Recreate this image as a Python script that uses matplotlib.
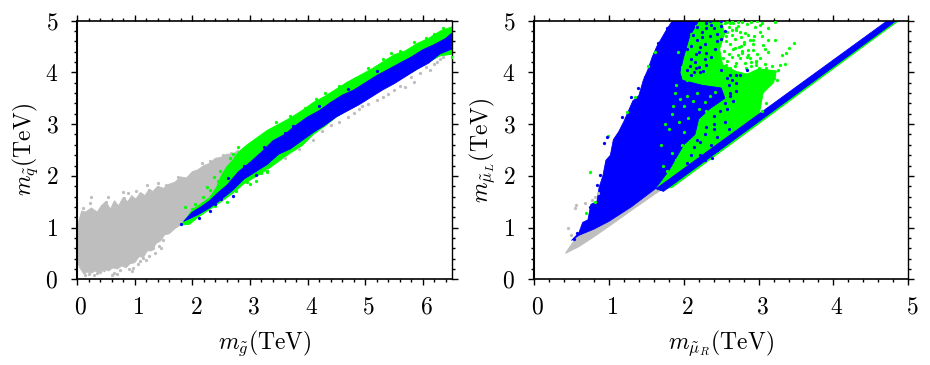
import matplotlib
matplotlib.use('Agg')
import matplotlib.pyplot as plt
from matplotlib.ticker import MultipleLocator
from matplotlib.transforms import ScaledTranslation

grey = '#bebebe'
green = '#00ff00'
blue = '#0000ff'

# left panel, outlines of the dense clouds (m_gluino, m_squark)
l_grey_x = [0, .03, .08, .15, .25, .35, .42, .5, .58, .65, .72, .8, .88, .95, 1.02, 1.1, 1.18, 1.25, 1.32, 1.4, 1.5, 1.6, 1.7, 1.8, 1.9, 2.0, 2.1, 2.2, 2.3, 2.4, 2.5, 2.6, 2.7, 2.8, 2.8, 2.6, 2.4, 2.1, 1.8, 1.7, 1.6, 1.52, 1.45, 1.38, 1.3, 1.22, 1.15, 1.08, 1.0, .92, .85, .78, .7, .62, .55, .48, .4, .32, .25, .18, .12, .05, 0]
l_grey_y = [1.0, 1.12, 1.32, 1.3, 1.38, 1.3, 1.42, 1.5, 1.36, 1.52, 1.42, 1.58, 1.5, 1.62, 1.55, 1.68, 1.62, 1.74, 1.7, 1.8, 1.76, 1.84, 1.88, 1.98, 1.96, 2.08, 2.12, 2.2, 2.24, 2.34, 2.36, 2.42, 2.42, 2.5, 2.0, 1.75, 1.55, 1.3, 1.05, .98, .88, .86, .74, .7, .55, .55, .42, .44, .32, .3, .22, .26, .2, .22, .16, .2, .12, .16, .12, .14, .1, .22, .35]
l_grn_x = [1.8, 1.9, 2.0, 2.1, 2.2, 2.3, 2.42, 2.5, 2.6, 2.7, 2.8, 2.95, 3.1, 3.3, 3.5, 3.7, 3.9, 4.1, 4.3, 4.5, 4.7, 4.9, 5.1, 5.3, 5.5, 5.7, 5.9, 6.1, 6.3, 6.5, 6.5, 6.3, 6.1, 5.9, 5.7, 5.5, 5.3, 5.1, 4.9, 4.7, 4.5, 4.3, 4.1, 3.9, 3.7, 3.5, 3.3, 3.1, 2.9, 2.7, 2.5, 2.3, 2.1, 1.95]
l_grn_y = [1.05, 1.18, 1.35, 1.42, 1.5, 1.58, 1.78, 2.0, 2.18, 2.3, 2.46, 2.6, 2.72, 2.88, 3.0, 3.12, 3.26, 3.42, 3.54, 3.68, 3.82, 3.94, 4.06, 4.2, 4.34, 4.42, 4.56, 4.66, 4.8, 4.88, 4.35, 4.32, 4.2, 4.06, 3.94, 3.84, 3.7, 3.56, 3.42, 3.28, 3.14, 2.96, 2.8, 2.58, 2.44, 2.28, 2.12, 1.98, 1.85, 1.66, 1.5, 1.35, 1.2, 1.06]
l_blu_x = [1.85, 2.0, 2.15, 2.3, 2.45, 2.6, 2.8, 3.0, 3.2, 3.4, 3.6, 3.8, 4.0, 4.2, 4.4, 4.6, 4.8, 5.0, 5.2, 5.4, 5.6, 5.8, 6.0, 6.2, 6.4, 6.5, 6.5, 6.3, 6.1, 5.9, 5.7, 5.5, 5.3, 5.1, 4.9, 4.7, 4.5, 4.3, 4.1, 3.9, 3.7, 3.5, 3.3, 3.1, 2.9, 2.7, 2.5, 2.3, 2.1]
l_blu_y = [1.12, 1.3, 1.4, 1.52, 1.68, 1.82, 2.08, 2.26, 2.46, 2.68, 2.8, 2.98, 3.14, 3.26, 3.42, 3.56, 3.66, 3.8, 3.94, 4.06, 4.18, 4.3, 4.44, 4.54, 4.66, 4.76, 4.45, 4.36, 4.18, 4.06, 3.92, 3.78, 3.66, 3.52, 3.38, 3.26, 3.14, 2.98, 2.84, 2.68, 2.52, 2.42, 2.22, 2.08, 1.94, 1.72, 1.54, 1.38, 1.25]

# left panel, stray points at the cloud edges
l_grey_px = [.25, .1, .22, .53, .5, .79, .82, .89, 1.03, 1.21, 1.25, 1.41, 1.55, 1.75, 2.16, 2.3, 2.54, 2.68, .14, .2, .34, .46, .6, .65, .83, .98, 1.15, 1.32, 1.5, 1.1, 1.25, 1.42, 5.2, 5.4, 5.69, 5.85, 6.12, 6.24, 6.3, 4.7, 4.9, 4.1, 4.4, 3.6, 3.3, 5.05, 5.3, 5.5, 5.6, 5.8, 5.95, 6.05, 6.2, 6.35, 4.55, 4.8, 4.95, 3.85, 4.25, .3, .4, .75, .9, 1.05, 1.2, 1.35, 1.45, .95, .7]
l_grey_py = [1.6, 1.37, 1.48, 1.6, 1.5, 1.69, 1.58, 1.66, 1.71, 1.82, 1.72, 1.87, 1.83, 1.98, 2.24, 2.28, 2.4, 2.44, .08, .1, .12, .18, .08, .12, .31, .21, .41, .6, .76, .35, .45, .65, 3.47, 3.58, 3.72, 3.82, 4.05, 4.21, 4.25, 3.14, 3.3, 2.69, 2.98, 2.35, 2.12, 3.38, 3.52, 3.66, 3.74, 3.92, 3.98, 4.1, 4.16, 4.3, 3.05, 3.22, 3.36, 2.52, 2.86, .08, .14, .18, .2, .3, .38, .5, .6, .16, .1]
l_grn_px = [1.88, 2.0, 2.18, 2.25, 2.38, 2.48, 2.55, 2.65, 2.8, 2.9, 3.0, 3.1, 3.3, 3.6, 4.3, 5.3, 5.6, 6.05, 6.35, 6.5, 2.6, 2.95, 3.3, 2.05, 2.3, 2.45, 2.7, 3.45, 3.7, 3.95, 4.15, 4.55, 4.8, 5.05, 5.45, 5.85, 6.2, 2.4, 2.75, 3.2]
l_grn_py = [1.4, 1.35, 1.6, 1.78, 1.98, 2.1, 2.05, 2.35, 2.55, 2.45, 1.85, 1.9, 2.08, 2.42, 3.6, 4.25, 4.42, 4.66, 4.85, 4.3, 1.5, 1.88, 2.1, 1.45, 1.72, 1.9, 2.42, 3.04, 3.16, 3.32, 3.48, 3.74, 3.88, 4.08, 4.38, 4.58, 4.74, 1.42, 1.7, 2.05]
l_blu_px = [1.8, 1.95, 2.05, 2.12, 2.2, 2.3, 2.4, 2.5, 2.7, 3.1, 3.6, 5.0, 2.62, 2.9, 3.25, 3.5, 3.75, 4.2, 4.7, 5.2]
l_blu_py = [1.07, 1.2, 1.28, 1.18, 1.38, 1.33, 1.45, 1.55, 1.62, 2.02, 2.82, 3.72, 1.95, 2.2, 2.55, 2.72, 2.96, 3.36, 3.68, 4.02]

# right panel, outlines (m_smuR, m_smuL)
r_grey_x = [.42, .6, .8, 1.0, 1.3, 1.66, 1.78, 1.6, 1.0, .7, .55, .45]
r_grey_y = [.5, .63, .82, 1.02, 1.33, 1.69, 1.8, 1.8, 1.25, .98, .78, .57]
r_grn_x = [1.65, 3.0, 3.03, 3.06, 3.2, 3.24, 3.0, 2.85, 2.7, 2.52, 2.48, 2.55, 2.5, 1.9, 1.7]
r_grn_y = [1.72, 3.13, 3.35, 3.6, 3.8, 4.03, 4.07, 3.97, 4.02, 4.15, 4.45, 4.75, 5.0, 5.0, 2.0]
r_blu_x = [.5, .6, .65, .72, .76, .84, .87, .92, .96, 1.02, 1.06, 1.13, 1.2, 1.26, 1.32, 1.4, 1.46, 1.52, 1.58, 1.64, 1.7, 1.78, 1.85, 2.2, 2.08, 2.0, 1.95, 1.98, 2.25, 2.5, 2.55, 2.35, 2.2, 2.15, 2.0, 1.8, 1.62, 1.3, 1.0, .8, .6]
r_blu_y = [.75, .9, 1.1, 1.15, 1.45, 1.5, 1.78, 2.0, 2.3, 2.4, 2.7, 2.85, 3.05, 3.25, 3.45, 3.55, 3.85, 4.05, 4.3, 4.5, 4.65, 4.85, 5.0, 5.0, 4.7, 4.3, 4.0, 3.85, 3.75, 3.7, 3.5, 3.3, 3.1, 2.8, 2.6, 2.1, 1.75, 1.4, 1.12, .97, .85]
band_grn_x = [1.75, 4.7, 4.88, 4.87, 1.85]
band_grn_y = [1.75, 4.85, 5.0, 5.0, 1.78]
band_blu_x = [1.63, 4.72, 4.84, 1.73]
band_blu_y = [1.75, 5.0, 5.0, 1.7]

# right panel, the speckled upper part
r_grn_px = [3.47, 3.41, 3.37, 3.31, 3.35, 3.26, 3.22, 3.12, 3.22, 3.02, 2.95, 3.02, 3.13, 3.06, 2.92, 3.02, 3.13, 2.97, 3.09, 2.89, 2.83, 2.75, 2.69, 2.8, 2.75, 2.86, 2.64, 3.2, 3.12, 3.06, 3.02, 3.2, 3.15, 3.1, 2.97, 3.28, 3.24, 3.18, 3.12, 3.0, 2.9, 2.82, 2.78, 2.93, 3.1, 3.05, .99, .75, 1.52, 1.62, 1.35, 1.24, .69, .81,
            1.92, 1.98, 2.05, 2.12, 2.18, 2.0, 2.08, 1.9, 1.85, 1.8, 1.75, 1.7, 2.02, 2.1, 2.15, 1.88, 1.95, 2.05, 2.2, 2.28, 2.32, 2.38, 2.24, 1.86, 1.94, 2.0, 2.06, 2.14, 1.84, 1.9, 1.98, 1.72, 1.78, 2.3, 2.36, 2.42, 2.46, 2.25, 2.12, 2.2, 2.28, 2.35, 2.42, 2.2, 2.3, 2.38, 2.1, 2.16, 2.24,
            2.55, 2.6, 2.66, 2.72, 2.78, 2.84, 2.9, 2.58, 2.64, 2.7, 2.76, 2.82, 2.88, 2.94, 2.56, 2.62, 2.68, 2.74, 2.8, 2.86, 2.54, 2.6, 2.66, 2.72, 2.78, 2.52, 2.58, 2.64, 2.7, 2.56, 2.62, 2.68, 2.58, 2.64, 2.98, 3.05, 2.92, 2.98, 2.86, 3.05, 2.72, 2.96, 3.08, 2.84, 2.9, 2.62, 2.7, 2.76, 2.5, 2.56]
r_grn_py = [4.56, 4.47, 4.37, 4.34, 4.16, 4.05, 4.63, 4.85, 4.98, 4.92, 4.88, 4.79, 4.63, 4.53, 4.43, 4.27, 4.4, 4.14, 4.17, 4.27, 4.08, 4.27, 4.47, 4.59, 4.79, 4.72, 4.82, 3.9, 3.85, 3.7, 3.55, 3.95, 3.98, 4.08, 4.2, 4.15, 3.85, 4.12, 4.0, 4.08, 4.12, 4.18, 4.38, 4.55, 3.4, 3.25, 2.77, 2.08, 4.12, 4.4, 3.53, 3.24, 1.28, 1.5,
            4.4, 4.1, 3.85, 4.3, 3.6, 3.35, 4.6, 3.75, 3.2, 2.9, 3.0, 2.6, 4.25, 4.05, 3.95, 3.6, 3.48, 3.55, 3.9, 4.15, 4.0, 3.85, 4.45, 3.35, 3.05, 2.85, 3.12, 2.72, 2.45, 2.3, 2.6, 2.2, 2.1, 3.25, 3.12, 3.0, 3.2, 3.02, 3.45, 3.3, 3.42, 3.55, 3.62, 4.65, 4.85, 4.7, 4.75, 4.9, 4.55,
            4.95, 4.88, 4.96, 4.9, 4.97, 4.93, 4.98, 4.78, 4.72, 4.82, 4.68, 4.76, 4.62, 4.7, 4.6, 4.55, 4.64, 4.5, 4.54, 4.44, 4.42, 4.36, 4.46, 4.34, 4.42, 4.28, 4.22, 4.3, 4.18, 4.14, 4.08, 4.12, 4.98, 5.0, 4.99, 4.96, 4.62, 4.35, 4.33, 4.7, 4.98, 4.22, 4.46, 4.3, 4.2, 4.95, 4.86, 4.52, 4.88, 4.7]
r_blu_px = [.97, .94, .88, .84, .75, .63, .53, .58, 1.18, 1.3, 1.39, 1.48, 1.65, 1.77, 2.4, 2.45, 2.5, 2.55, 2.45, 2.5, 2.35, 2.42, 2.28, 2.36, 2.2, 2.3, 2.15, 2.22, 2.1, 2.18, 2.6, 2.65, 2.62, 2.7, 2.7, 2.55, 2.58, 2.62, 2.66, 2.4, 2.48, 2.4, 2.3, 2.22, 2.28, 2.36, 2.14, 2.45, 2.55, 2.3, 2.22, 2.1, 2.05, 2.2, 2.28, 2.38, 2.44, 2.6, 2.62, 2.7, 2.75, 2.85, 2.5, 2.3, 2.35, 2.5, 2.4, 2.58, 2.15, 2.12,
            2.12, 2.18, 2.24, 2.3, 2.36, 2.12, 2.18, 2.24, 2.3, 2.1, 2.16, 2.22, 2.28, 2.05, 2.1, 2.16, 2.08, 2.14, 2.2, 2.26, 2.04, 2.1, 2.06, 2.02]
r_blu_py = [2.76, 2.63, 2.02, 1.82, 1.4, .95, .77, .89, 3.14, 3.53, 3.69, 3.92, 4.56, 4.85, 4.85, 4.75, 4.9, 4.8, 4.6, 4.65, 4.7, 4.45, 4.55, 4.3, 4.4, 4.15, 4.2, 4.0, 3.6, 2.7, 3.75, 3.85, 3.95, 3.8, 3.65, 3.4, 3.3, 3.55, 3.45, 3.15, 3.25, 2.9, 2.95, 2.65, 2.8, 2.6, 2.55, 2.75, 3.05, 2.45, 2.4, 2.4, 2.25, 2.25, 2.3, 2.35, 2.5, 2.9, 3.6, 3.95, 3.95, 4.05, 4.05, 4.95, 5.0, 5.0, 3.0, 3.9, 2.95, 3.1,
            4.95, 4.88, 4.78, 4.86, 4.92, 4.72, 4.62, 4.68, 4.38, 4.52, 4.35, 4.5, 4.25, 4.45, 4.25, 4.08, 4.12, 4.0, 4.1, 4.02, 4.05, 3.95, 4.75, 4.6]
r_grey_px = [.55, .56, .46, .77, .86, .68, .5, .82]
r_grey_py = [1.37, 1.44, .99, 1.53, 1.66, 1.47, .85, 1.6]

plt.rcParams['font.family'] = 'cmr10'
plt.rcParams['axes.formatter.use_mathtext'] = True
plt.rcParams['mathtext.fontset'] = 'cm'
plt.rcParams['font.size'] = 17


def cloud(ax, x, y, c):
    ax.fill(x, y, color=c, lw=0.6, zorder=2)


def pts(ax, x, y, c, z=3):
    ax.scatter(x, y, s=5.5, c=c, marker='o', linewidths=0, zorder=z)


def frame(ax, xmax, xticks):
    ax.set_xlim(0, xmax)
    ax.set_ylim(0, 5)
    ax.set_xticks(xticks)
    ax.set_yticks(range(6))
    ax.xaxis.set_minor_locator(MultipleLocator(0.2))
    ax.yaxis.set_minor_locator(MultipleLocator(0.2))
    ax.tick_params(which='major', direction='out', top=True, right=True, length=4.5, width=1, labelsize=17)
    ax.tick_params(which='minor', direction='out', top=True, right=True, length=2.2, width=1)
    ax.tick_params(axis='x', pad=8)
    ax.tick_params(axis='y', pad=9)
    for s in ax.spines.values():
        s.set_linewidth(1)
    ax.spines['left'].set_linewidth(1.5)
    ax.spines['bottom'].set_linewidth(1.2)
    ax.spines['top'].set_linewidth(1.2)
    # tick labels sit a little right of their ticks in the original
    shift = ScaledTranslation(2.5 / 72, 0, ax.figure.dpi_scale_trans)
    for lab in ax.get_xticklabels():
        lab.set_transform(lab.get_transform() + shift)


fig = plt.figure(figsize=(9.3, 3.65), dpi=100)
ax1 = fig.add_axes([77 / 930, 1 - 279.3 / 365, 374.7 / 930, 258.6 / 365])
ax2 = fig.add_axes([534 / 930, 1 - 279.3 / 365, 374.3 / 930, 258.6 / 365])

cloud(ax1, l_grey_x, l_grey_y, grey)
pts(ax1, l_grey_px, l_grey_py, grey)
cloud(ax1, l_grn_x, l_grn_y, green)
pts(ax1, l_grn_px, l_grn_py, green)
cloud(ax1, l_blu_x, l_blu_y, blue)
pts(ax1, l_blu_px, l_blu_py, blue)
frame(ax1, 6.5, range(7))
ax1.set_xlabel(r'$m_{\tilde{g}}$(TeV)', labelpad=7)
ax1.set_ylabel(r'$m_{\tilde{q}}$(TeV)', labelpad=4)

cloud(ax2, r_grey_x, r_grey_y, grey)
pts(ax2, r_grey_px, r_grey_py, grey)
cloud(ax2, r_grn_x, r_grn_y, green)
cloud(ax2, r_blu_x, r_blu_y, blue)
cloud(ax2, band_grn_x, band_grn_y, green)
cloud(ax2, band_blu_x, band_blu_y, blue)
pts(ax2, r_grn_px, r_grn_py, green)
pts(ax2, r_blu_px, r_blu_py, blue, 4)
frame(ax2, 5, range(6))
ax2.set_xlabel(r'$m_{\tilde{\mu}_R}$(TeV)', labelpad=7)
ax2.set_ylabel(r'$m_{\tilde{\mu}_L}$(TeV)', labelpad=4)

fig.savefig('out.png', dpi=100)
